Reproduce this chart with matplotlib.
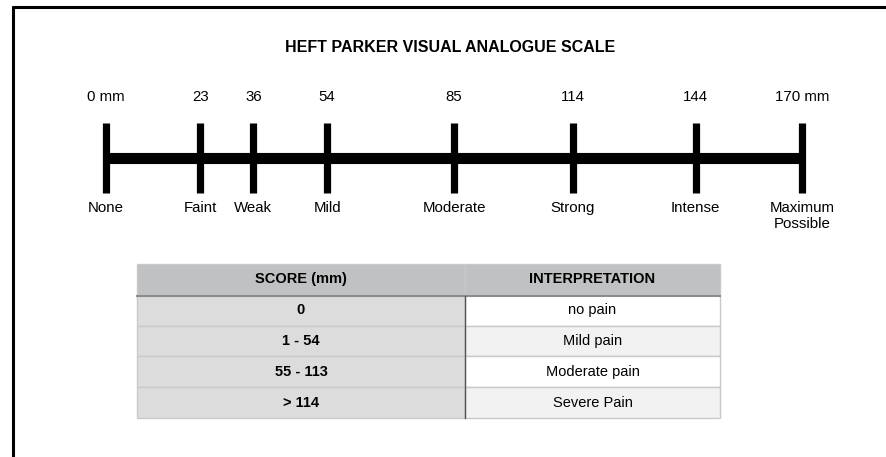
import matplotlib.pyplot as plt
from matplotlib.lines import Line2D

plt.rcParams['font.family'] = ['Liberation Sans', 'DejaVu Sans']

# scale marks (mm) and their words
marks = [0, 23, 36, 54, 85, 114, 144, 170]
mark_labels = ['0 mm', '23', '36', '54', '85', '114', '144', '170 mm']
words = ['None', 'Faint', 'Weak', 'Mild', 'Moderate', 'Strong', 'Intense',
         'Maximum\nPossible']

# interpretation table
score_ranges = ['0', '1 - 54', '55 - 113', '> 114']
meanings = ['no pain', 'Mild pain', 'Moderate pain', 'Severe Pain']
col_heads = ['SCORE (mm)', 'INTERPRETATION']

W, H = 887, 457
fig = plt.figure(figsize=(W / 100, H / 100), dpi=100)
fig.patch.set_facecolor('white')

# axes over the whole figure, x in mm, y in pixels from the top
ax = fig.add_axes([0, 0, 1, 1])
x0_px, x1_px = 106, 802
per_mm = (x1_px - x0_px) / (marks[-1] - marks[0])
ax.set_xlim(-x0_px / per_mm, (W - x0_px) / per_mm)
ax.set_ylim(H, 0)
ax.axis('off')

# frame (only top and left visible in the crop)
fig.add_artist(Line2D([12 / W, 1], [1 - 7 / H, 1 - 7 / H], color='black', lw=2.2,
                      solid_capstyle='butt'))
fig.add_artist(Line2D([13 / W, 13 / W], [1 - 6 / H, 0], color='black', lw=2.2,
                      solid_capstyle='butt'))

ax.text(marks[0] + (marks[-1] - marks[0]) / 2 - 1, 47, 'HEFT PARKER VISUAL ANALOGUE SCALE',
        ha='center', va='center', fontsize=11.5, fontweight='bold')

# main bar and ticks
ax.plot([marks[0], marks[-1]], [158, 158], color='black', lw=8, solid_capstyle='butt')
for m, lab, w in zip(marks, mark_labels, words):
    ax.plot([m, m], [123, 193], color='black', lw=5.2, solid_capstyle='butt')
    ax.text(m, 97, lab, ha='center', va='center', fontsize=10.8)
    ax.text(m, 201, w, ha='center', va='top', fontsize=10.8, linespacing=1.2)

# table
cells = [[s, t] for s, t in zip(score_ranges, meanings)]
tb = ax.table(cellText=cells, colLabels=col_heads, cellLoc='center',
              colWidths=[328, 255],
              bbox=[137 / W, 1 - 418 / H, 583 / W, 154 / H],
              transform=fig.transFigure)
tb.auto_set_font_size(False)
right_bg = ['#ffffff', '#f2f2f2', '#ffffff', '#f2f2f2']
for (r, c), cell in tb.get_celld().items():
    cell.set_edgecolor('#c9c9c9')
    cell.set_linewidth(1.0)
    cell.get_text().set_fontsize(10.5)
    if r == 0:
        cell.set_facecolor('#bfc1c2')
        cell.get_text().set_fontweight('bold')
    elif c == 0:
        cell.set_facecolor('#dcdcdc')
        cell.get_text().set_fontweight('bold')
    else:
        cell.set_facecolor(right_bg[r - 1])

# darker header rule and column divider
fig.add_artist(Line2D([137 / W, 720 / W], [1 - 296 / H, 1 - 296 / H], color='#8c8c8c', lw=1.5))
fig.add_artist(Line2D([465 / W, 465 / W], [1 - 296 / H, 1 - 418 / H], color='#555555', lw=1.0))

fig.savefig('out.png', dpi=100)
